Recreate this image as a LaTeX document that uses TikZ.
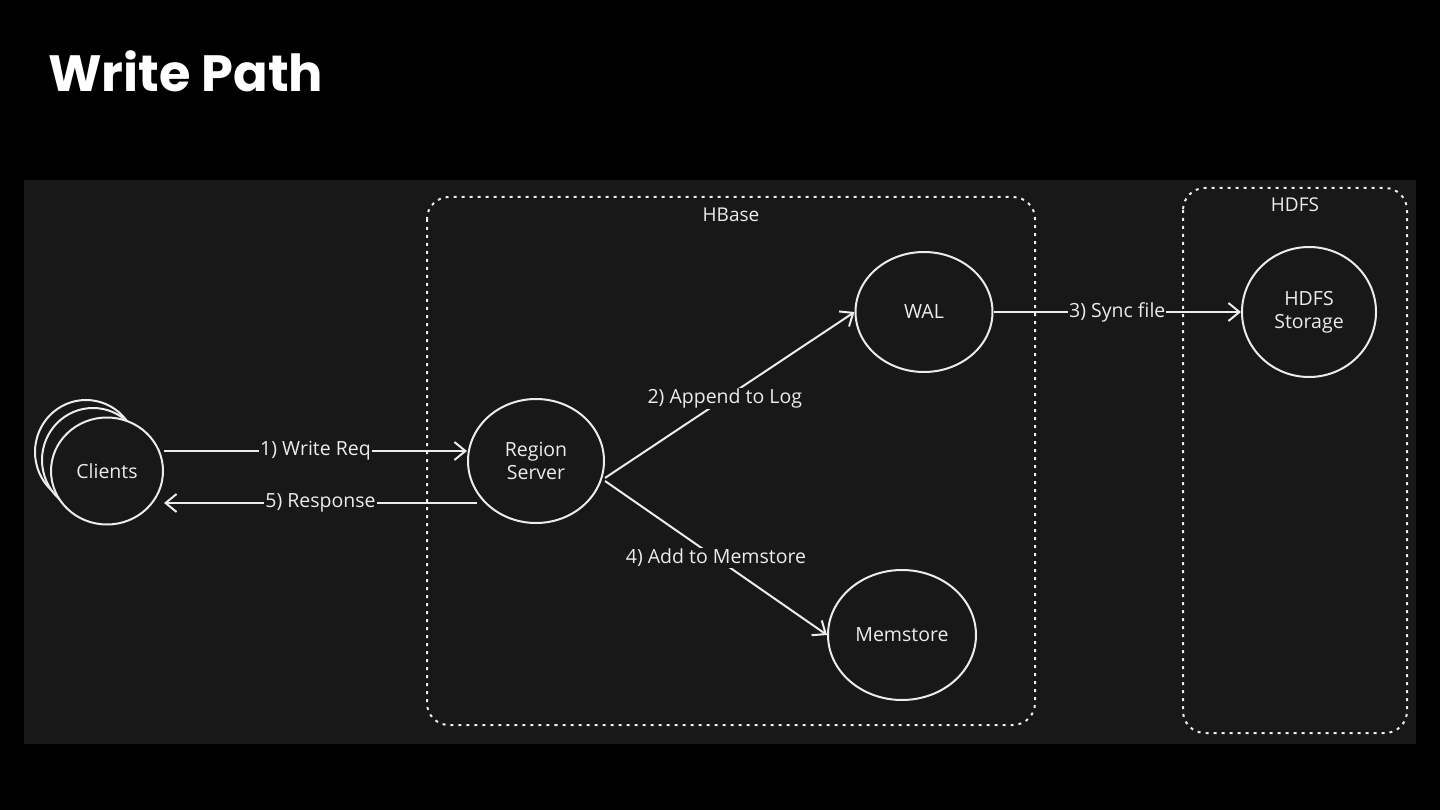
\documentclass[tikz,border=0pt]{standalone}
\usepackage{fontspec}
\setmainfont{Open Sans}
\newfontfamily\titlefont{Poppins}
\usetikzlibrary{shapes.geometric,arrows.meta}
\definecolor{panel}{HTML}{181818}
\definecolor{ink}{HTML}{ECECEC}
\tikzset{
  circ/.style={draw=ink, line width=2pt, ellipse, fill=panel, text=ink, font=\fontsize{19.5}{23}\selectfont, align=center, inner sep=0pt},
  group/.style={draw=ink, line width=2pt, rounded corners=22pt, dash pattern=on 3pt off 5pt},
  grouplabel/.style={text=ink, font=\fontsize{19}{22}\selectfont},
  conn/.style={draw=ink, line width=2pt, -{Straight Barb[length=11pt,width=18pt,line width=2pt]}},
  lbl/.style={fill=panel, text=ink, font=\fontsize{19.5}{23}\selectfont, inner sep=1pt}
}
\begin{document}
\begin{tikzpicture}[x=1pt,y=-1pt]
\fill[black] (0,0) rectangle (1440,810);
\useasboundingbox (0,0) rectangle (1440,810);
\node[anchor=base west, text=white, font=\titlefont\fontsize{51}{56}\selectfont\bfseries, inner sep=0pt] (title) at (48,92) {Write Path};
\fill[panel] (24,180) rectangle (1416,744);
% groups
\draw[group] (427,197) rectangle (1035,725);
\node[grouplabel] (hbase) at (731,215) {HBase};
\draw[group] (1183,188) rectangle (1407,733);
\node[grouplabel] (hdfs) at (1295,205) {HDFS};
% clients stack
\node[circ, minimum width=102pt, minimum height=104pt] (c3) at (86,452) {};
\node[circ, minimum width=102pt, minimum height=104pt] (c2) at (93,460) {};
\node[circ, minimum width=112pt, minimum height=107pt] (clients) at (107,471) {Clients};
% other nodes
\node[circ, minimum width=136pt, minimum height=124pt] (rs) at (536,461) {Region\\Server};
\node[circ, minimum width=137pt, minimum height=120pt] (wal) at (924,312) {WAL};
\node[circ, minimum width=148pt, minimum height=130pt] (mem) at (902,635) {Memstore};
\node[circ, minimum width=134pt, minimum height=130pt] (hdfsst) at (1309,312) {HDFS\\Storage};
% connectors
\draw[conn] (clients.east |- 0,451) -- node[lbl] {1) Write Req} (rs.west |- 0,451);
\draw[conn] (rs.west |- 0,503) ++(10,0) -- node[lbl, pos=0.5] {5) Response} (clients.east |- 0,503);
\draw[conn] (rs.east) ++(0,17) -- node[lbl, pos=0.48] {2) Append to Log} (wal.west);
\draw[conn] (rs.east) ++(0,20) -- node[lbl, pos=0.5] {4) Add to Memstore} (mem.west);
\draw[conn] (wal.east) -- node[lbl] {3) Sync file} (hdfsst.west);
\end{tikzpicture}
\end{document}
